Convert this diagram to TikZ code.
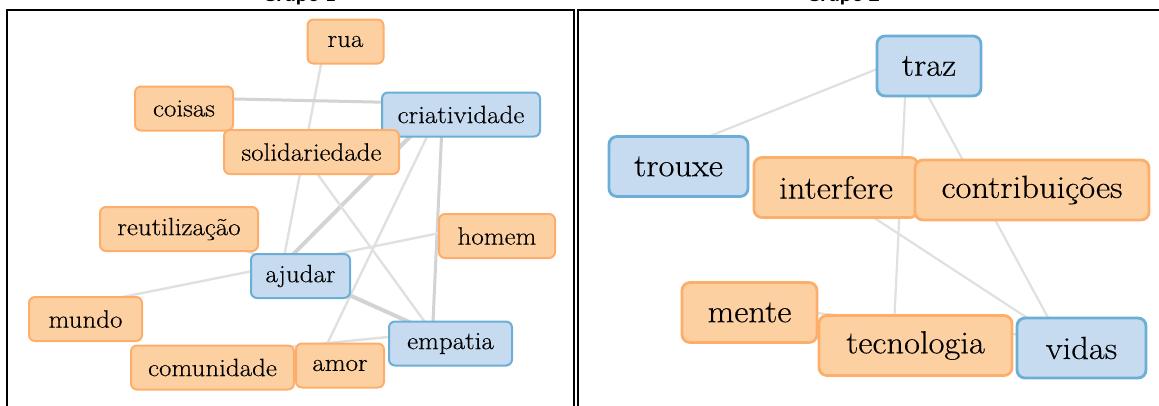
\documentclass[tikz,border=0pt]{standalone}
\usepackage{fontspec}
\setmainfont{Latin Modern Roman}[FakeStretch=1.08, FakeBold=0.35]
\newfontfamily\titlefont{Carlito}
\usetikzlibrary{calc}

\definecolor{orfill}{HTML}{FDD0A2}
\definecolor{ordraw}{HTML}{FDAE6B}
\definecolor{blfill}{HTML}{C6DBEF}
\definecolor{bldraw}{HTML}{6BAED6}
\definecolor{linkc}{HTML}{E0E0E0}
\definecolor{linkd}{HTML}{D3D3D3}

\pgfdeclarelayer{edges}
\pgfsetlayers{edges,main}

\tikzset{
  word/.style={rectangle, rounded corners=6pt, line width=2pt, inner sep=0pt,
    minimum height=44pt, text=black, font=\fontsize{25}{28}\selectfont},
  bigword/.style={rectangle, rounded corners=8pt, line width=2.8pt, inner sep=0pt,
    minimum height=60pt, text=black, font=\fontsize{32}{36}\selectfont},
  orange/.style={fill=orfill, draw=ordraw},
  blue/.style={fill=blfill, draw=bldraw},
  link/.style={draw=linkc, line width=2.4pt},
  midlink/.style={draw=linkd, line width=3pt},
  heavylink/.style={draw=linkd, line width=4pt},
  thinlink/.style={draw=linkc, line width=2.2pt},
  frame/.style={draw=black, line width=2pt},
  title/.style={font=\titlefont\bfseries\fontsize{22}{26}\selectfont, anchor=base, inner sep=0pt}
}

\begin{document}
\begin{tikzpicture}[x=1pt, y=-1pt]
\useasboundingbox (0,0) rectangle (1159,405);
\clip (0,0) rectangle (1159,405);

% panel headings (cut by the top edge) and frames
\node[title] (t1) at (299,1.5) {Grupo 1};
\node[title] (t2) at (843,1.5) {Grupo 2};
\draw[frame] (6.5,10) rectangle (574,430);
\draw[frame] (578,10) rectangle (1175,430);

% ---------- left network ----------
\node[word,orange,minimum width=76pt]  (rua)   at (345.5,41.5) {rua};
\node[word,orange,minimum width=98pt]  (coisas) at (184,108.5) {coisas};
\node[word,blue,minimum width=158pt]   (criat) at (461,114.5) {criatividade};
\node[word,orange,minimum width=175pt] (solid) at (311.5,152) {solidariedade};
\node[word,orange,minimum width=158pt] (reut)  at (179,229) {reutilização};
\node[word,orange,minimum width=116pt] (homem) at (497,236) {homem};
\node[word,blue,minimum width=99pt]    (ajudar) at (300.5,276) {ajudar};
\node[word,orange,minimum width=113pt] (mundo) at (85.5,319) {mundo};
\node[word,blue,minimum width=123pt]   (empat) at (450.5,343.5) {empatia};
\node[word,orange,minimum width=163pt] (comun) at (212.5,367.5) {comunidade};
\node[word,orange,minimum width=88pt]  (amor)  at (340,365.5) {amor};

\begin{pgfonlayer}{edges}
\draw[link]      ($(rua)+(-18,-11)$)    -- ($(ajudar)+(-18,-11)$);
\draw[midlink]   ($(coisas)+(-18,-11)$) -- ($(criat)+(-18,-11)$);
\draw[heavylink] ($(criat)+(-18,-11)$)  -- ($(ajudar)+(-18,-11)$);
\draw[link]      ($(criat)+(-18,-11)$)  -- ($(amor)+(-18,-11)$);
\draw[midlink]   ($(criat)+(-18,-11)$)  -- ($(empat)+(-18,-11)$);
\draw[link]      ($(solid)+(-18,-11)$)  -- ($(empat)+(-18,-11)$);
\draw[link]      ($(homem)+(-18,-11)$)  -- ($(ajudar)+(-18,-11)$);
\draw[link]      ($(reut)+(-18,-11)$)   -- ($(ajudar)+(-18,-11)$);
\draw[link]      ($(mundo)+(-18,-11)$)  -- ($(ajudar)+(-18,-11)$);
\draw[heavylink] ($(ajudar)+(-18,-11)$) -- ($(empat)+(-18,-11)$);
\draw[link]      ($(comun)+(-18,-11)$)  -- ($(empat)+(-18,-11)$);
\end{pgfonlayer}

% ---------- right network ----------
\node[bigword,blue,minimum width=104pt]   (traz)   at (929,66) {traz};
\node[bigword,blue,minimum width=139pt]   (trouxe) at (678.5,166.5) {trouxe};
\node[bigword,orange,minimum width=164pt] (interf) at (836,187.5) {interfere};
\node[bigword,orange,minimum width=234pt] (contr)  at (1032,190) {contribuições};
\node[bigword,orange,minimum width=135pt] (mente)  at (749.5,312.5) {mente};
\node[bigword,orange,minimum width=193pt] (tecno)  at (915.5,345.5) {tecnologia};
\node[bigword,blue,minimum width=129pt]   (vidas)  at (1081.5,348) {vidas};

\begin{pgfonlayer}{edges}
\draw[thinlink] ($(traz)+(-22,-9)$)   -- ($(trouxe)+(-22,-9)$);
\draw[thinlink] ($(traz)+(-22,-9)$)   -- ($(tecno)+(-22,-9)$);
\draw[thinlink] ($(traz)+(-22,-9)$)   -- ($(vidas)+(-22,-9)$);
\draw[thinlink] ($(interf)+(-22,-9)$) -- ($(vidas)+(-22,-9)$);
\draw[thinlink] ($(mente)+(-22,-9)$)  -- ($(vidas)+(-22,-9)$);
\end{pgfonlayer}
\end{tikzpicture}
\end{document}
